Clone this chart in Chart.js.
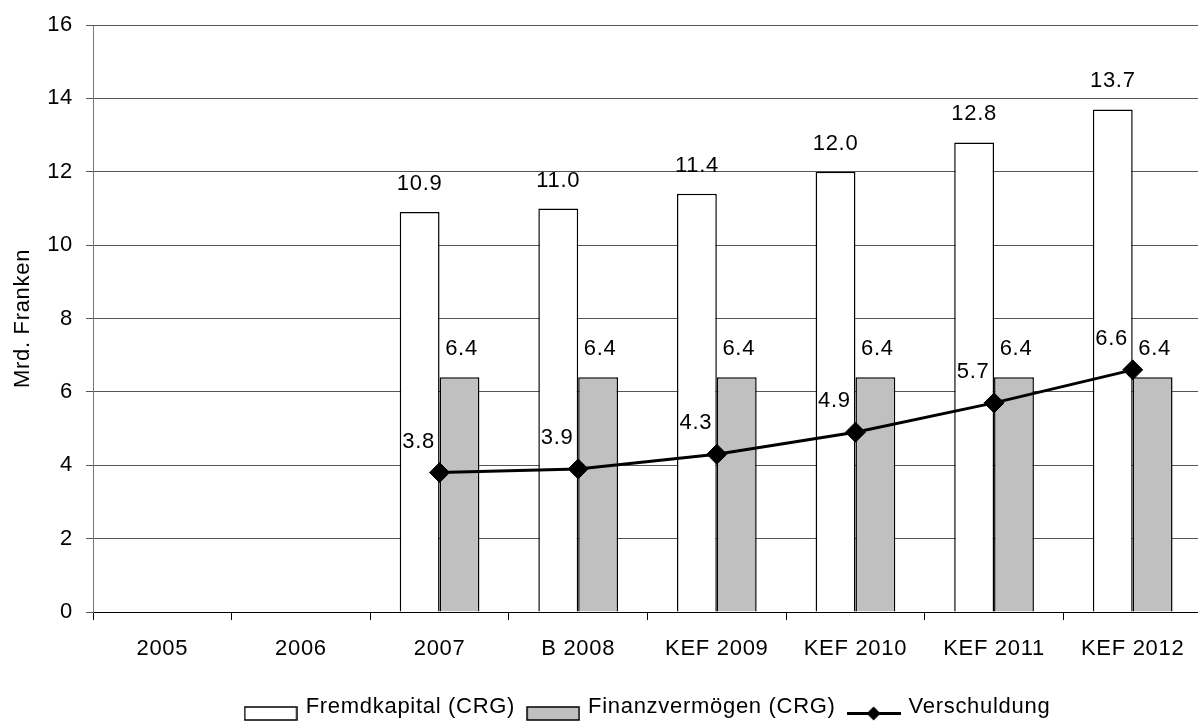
<!DOCTYPE html>
<html>
<head>
<meta charset="utf-8">
<script src="https://cdn.jsdelivr.net/npm/chart.js@4.4.1/dist/chart.umd.min.js"></script>
<style>
  html, body { margin: 0; padding: 0; overflow: hidden; background: #fff; }
  #wrap { width: 1213px; height: 724px; position: relative; }
</style>
</head>
<body>
<!-- the original plot runs a few pixels past the right edge of the picture -->
<div id="wrap"><canvas id="chart" width="1213" height="724"></canvas></div>
<script>
// ===== DATA =====
const categories = ['2005', '2006', '2007', 'B 2008', 'KEF 2009', 'KEF 2010', 'KEF 2011', 'KEF 2012'];
const fremdkapital = [null, null, 10.9, 11.0, 11.4, 12.0, 12.8, 13.7];
const finanzvermoegen = [null, null, 6.4, 6.4, 6.4, 6.4, 6.4, 6.4];
const verschuldung = [null, null, 3.8, 3.9, 4.3, 4.9, 5.7, 6.6];
const seriesNames = ['Fremdkapital (CRG)', 'Finanzvermögen (CRG)', 'Verschuldung'];
const Y_MIN = 0, Y_MAX = 16, Y_STEP = 2;

// ===== STYLE =====
const FONT_FAMILY = "'Liberation Sans', Arial, Helvetica, sans-serif";
const FONT_SIZE = 22;
const GREY = '#c0c0c0';
Chart.defaults.font.family = FONT_FAMILY;
Chart.defaults.font.size = FONT_SIZE;
Chart.defaults.color = '#000';

// legend icons (box / box / line with diamond)
function makeIcon(kind) {
  const c = document.createElement('canvas');
  c.width = 54; c.height = 30;
  const g = c.getContext('2d');
  if (kind === 'line') {
    g.strokeStyle = '#000'; g.lineWidth = 3;
    g.beginPath(); g.moveTo(0, 21.5); g.lineTo(54, 21.5); g.stroke();
    g.fillStyle = '#000';
    g.beginPath(); g.moveTo(27, 14.5); g.lineTo(34, 21.5); g.lineTo(27, 28.5); g.lineTo(20, 21.5); g.closePath(); g.fill();
  } else {
    g.fillStyle = kind; g.fillRect(1, 15, 52, 13);
    g.strokeStyle = '#000'; g.lineWidth = 1.5; g.strokeRect(1, 15, 52, 13);
  }
  return c;
}
const legendIcons = [makeIcon('#ffffff'), makeIcon(GREY), makeIcon('line')];

// slightly wider text, like the original
const spacing = {
  id: 'spacing',
  beforeLayout(chart) { chart.ctx.letterSpacing = '0.7px'; },
  beforeDraw(chart) { chart.ctx.letterSpacing = '0.7px'; },
  afterLayout(chart) {
    // small nudge so the legend row sits where the original has it
    if (chart.legend) { chart.legend.left += 1; chart.legend.right += 1; }
  }
};

// value labels above bars / beside points
const valueLabels = {
  id: 'valueLabels',
  afterDatasetsDraw(chart) {
    const ctx = chart.ctx;
    ctx.save();
    ctx.font = `${FONT_SIZE}px ${FONT_FAMILY}`;
    ctx.fillStyle = '#000';
    ctx.textAlign = 'center';
    ctx.textBaseline = 'middle';
    chart.data.datasets.forEach((ds, i) => {
      const meta = chart.getDatasetMeta(i);
      meta.data.forEach((el, j) => {
        const v = ds.data[j];
        if (v == null) return;
        const txt = v.toFixed(1);
        if (ds.type === 'line') ctx.fillText(txt, el.x - 21, el.y - 31);
        else ctx.fillText(txt, el.x + (i === 1 ? 2 : 0), el.y - 28);
      });
    });
    ctx.restore();
  }
};

new Chart(document.getElementById('chart'), {
  data: {
    labels: categories,
    datasets: [
      { type: 'bar', label: seriesNames[0], data: fremdkapital,
        backgroundColor: '#fff', borderColor: '#000', borderWidth: 1.5,
        categoryPercentage: 0.575, barPercentage: 1 },
      { type: 'bar', label: seriesNames[1], data: finanzvermoegen,
        backgroundColor: GREY, borderColor: '#000', borderWidth: 1.5,
        categoryPercentage: 0.575, barPercentage: 1 },
      { type: 'line', label: seriesNames[2], data: verschuldung, order: -1,
        borderColor: '#000', borderWidth: 3, tension: 0,
        pointStyle: 'rectRot', pointRadius: 10, pointBackgroundColor: '#000',
        pointBorderColor: '#000', pointBorderWidth: 1 }
    ]
  },
  options: {
    responsive: false, animation: false,
    layout: { padding: { top: 25, right: 0, bottom: -4, left: 0 } },
    scales: {
      x: {
        offset: true,
        grid: { offset: true, drawOnChartArea: false, drawTicks: true, tickLength: 8, color: '#000' },
        border: { color: '#000', width: 1 },
        ticks: { padding: 16, maxRotation: 0, autoSkip: false },
        afterFit(scale) { scale.height = 70; scale.paddingLeft = 0; scale.paddingRight = 0; }
      },
      y: {
        min: Y_MIN, max: Y_MAX,
        ticks: { stepSize: Y_STEP, padding: 13 },
        grid: { color: '#555', tickLength: 7 },
        border: { color: '#777', width: 1 },
        title: { display: true, text: 'Mrd. Franken', padding: { top: 10, bottom: 0 } },
        afterFit(scale) { scale.width = 93; scale.paddingTop = 0; scale.paddingBottom = 0; }
      }
    },
    plugins: {
      tooltip: { enabled: false },
      legend: {
        position: 'bottom', fullSize: false,
        labels: {
          usePointStyle: true, pointStyleWidth: 48, padding: 14,
          sort: (a, b) => a.datasetIndex - b.datasetIndex,
          generateLabels(chart) {
            return chart.data.datasets.map((ds, i) => ({
              text: ds.label, datasetIndex: i, pointStyle: legendIcons[i],
              fillStyle: '#fff', strokeStyle: '#000', lineWidth: 1, hidden: false, fontColor: '#000'
            }));
          }
        }
      }
    }
  },
  plugins: [spacing, valueLabels]
});
</script>
</body>
</html>
